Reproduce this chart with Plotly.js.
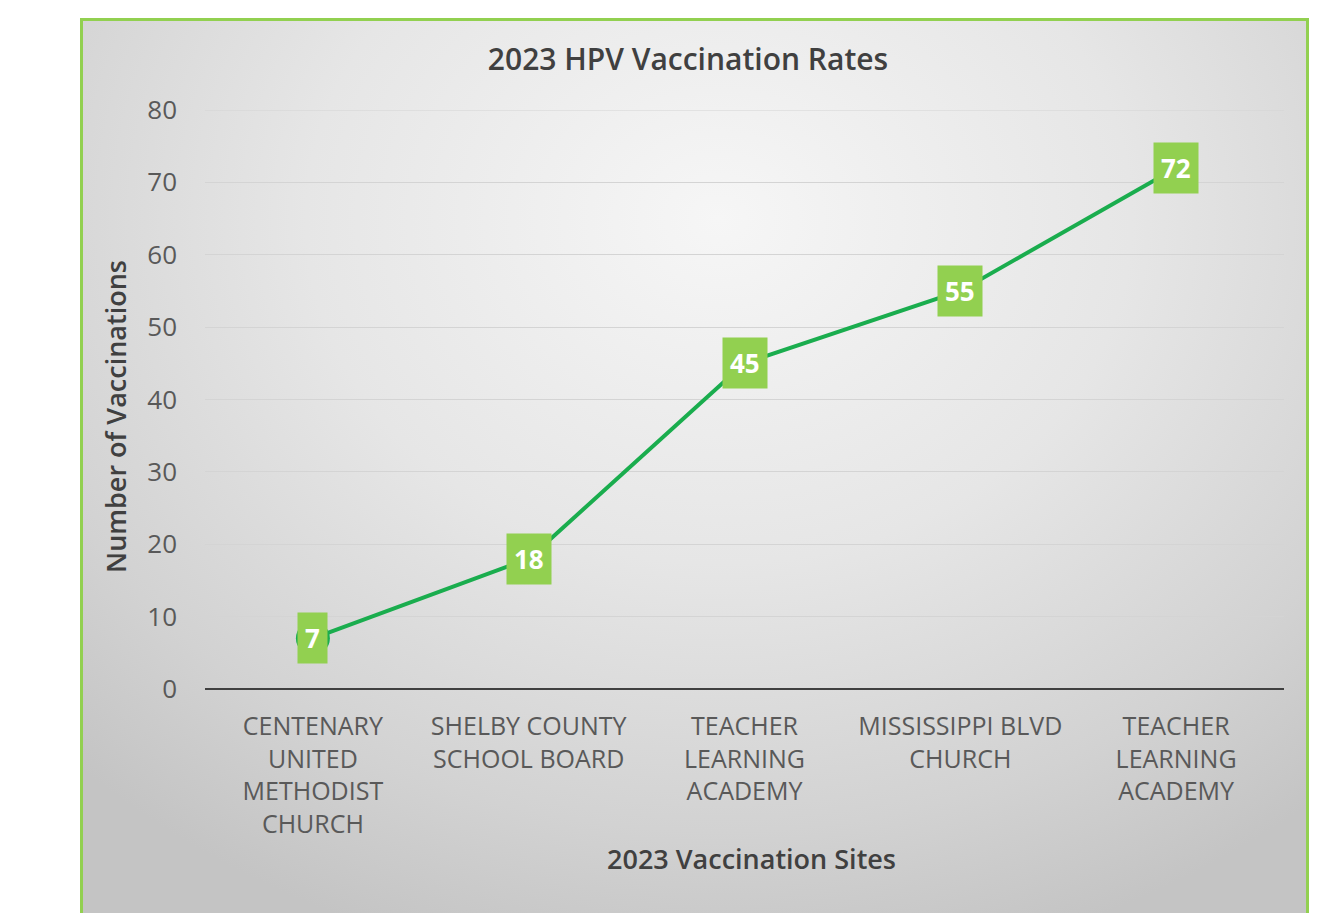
<!DOCTYPE html>
<html>
<head>
<meta charset="utf-8">
<script src="https://cdn.plot.ly/plotly-3.0.1.min.js"></script>
<style>
  html, body { margin: 0; padding: 0; background: #ffffff; width: 1322px; height: 913px; overflow: hidden; }
  #frame {
    position: absolute; left: 80px; top: 18px; width: 1223px; height: 900px;
    border: 3px solid #92d050; border-bottom: none;
    background: radial-gradient(ellipse 75% 85% at 52% 22%, #f6f6f6 0%, #e6e6e6 45%, #d2d2d2 80%, #c4c4c4 100%);
  }
  #chart { position: absolute; left: 0; top: 0; width: 1322px; height: 913px; }
</style>
</head>
<body>
<div id="frame"></div>
<div id="chart"></div>
<script>
const categories = [
  "CENTENARY<br>UNITED<br>METHODIST<br>CHURCH",
  "SHELBY COUNTY<br>SCHOOL BOARD",
  "TEACHER<br>LEARNING<br>ACADEMY",
  "MISSISSIPPI BLVD<br>CHURCH",
  "TEACHER<br>LEARNING<br>ACADEMY"
];
const vaccinations = [7, 18, 45, 55, 72];
const yTicks = [0, 10, 20, 30, 40, 50, 60, 70, 80];

const xIdx = categories.map((c, i) => i);

const trace = {
  x: xIdx,
  y: vaccinations,
  type: 'scatter',
  mode: 'lines+markers',
  line: { color: '#1aad4e', width: 4 },
  marker: { color: '#1aad4e', size: 34, symbol: 'circle' },
  hoverinfo: 'skip'
};

const labelAnnotations = vaccinations.map((v, i) => ({
  x: xIdx[i], y: v, xref: 'x', yref: 'y',
  text: String(v), showarrow: false,
  font: { family: 'Open Sans, sans-serif', size: 26, color: '#ffffff', weight: 700 },
  bgcolor: '#92d050', borderpad: 7,
  xanchor: 'center', yanchor: 'middle'
}));

const yMax = yTicks[yTicks.length - 1];

const layout = {
  width: 1322, height: 913,
  margin: { l: 205, r: 38, t: 110, b: 224 },
  paper_bgcolor: 'rgba(0,0,0,0)',
  plot_bgcolor: 'rgba(0,0,0,0)',
  showlegend: false,
  title: {
    text: '2023 HPV Vaccination Rates',
    xref: 'container', x: 688 / 1322, xanchor: 'center',
    yref: 'container', y: 1 - 59 / 913, yanchor: 'middle',
    font: { family: 'Open Sans, sans-serif', size: 30, color: '#404040', weight: 600 }
  },
  xaxis: {
    range: [-0.5, categories.length - 0.5],
    tickvals: xIdx, ticktext: categories,
    showgrid: false, zeroline: false,
    showline: false, ticks: '',
    ticklabelstandoff: 20,
    tickfont: { family: 'Open Sans, sans-serif', size: 25, color: '#595959' },
    fixedrange: true
  },
  yaxis: {
    range: [0, yMax],
    tickvals: yTicks,
    showgrid: true, gridcolor: '#d4d4d4', gridwidth: 1,
    zeroline: true, zerolinecolor: '#404040', zerolinewidth: 2.5,
    showline: false, ticks: '',
    ticklabelstandoff: 27,
    tickfont: { family: 'Open Sans, sans-serif', size: 26, color: '#595959' },
    fixedrange: true
  },
  shapes: [{
    type: 'line', xref: 'paper', yref: 'y', x0: 0, x1: 1, y0: yMax, y1: yMax,
    line: { color: '#d4d4d4', width: 1 }, layer: 'below'
  }],
  annotations: labelAnnotations.concat([
    {
      text: 'Number of Vaccinations', xref: 'paper', yref: 'paper',
      x: (115 - 205) / 1079, y: (689 - 417) / 579, textangle: -90,
      showarrow: false, xanchor: 'center', yanchor: 'middle',
      font: { family: 'Open Sans, sans-serif', size: 27, color: '#404040', weight: 600 }
    },
    {
      text: '2023 Vaccination Sites', xref: 'paper', yref: 'paper',
      x: (751 - 205) / 1079, y: (689 - 858) / 579,
      showarrow: false, xanchor: 'center', yanchor: 'middle',
      font: { family: 'Open Sans, sans-serif', size: 27, color: '#404040', weight: 600 }
    }
  ])
};

Plotly.newPlot('chart', [trace], layout, { displayModeBar: false, staticPlot: true });
</script>
</body>
</html>
